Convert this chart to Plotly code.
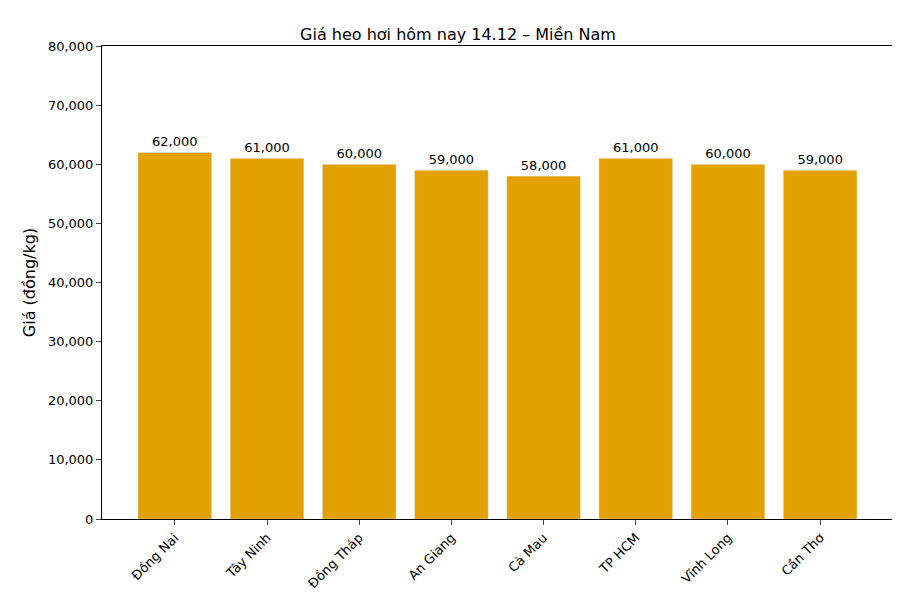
import plotly.graph_objects as go

provinces = ["Đồng Nai", "Tây Ninh", "Đồng Tháp", "An Giang", "Cà Mau", "TP HCM", "Vĩnh Long", "Cần Thơ"]
prices = [62000, 61000, 60000, 59000, 58000, 61000, 60000, 59000]
y_ticks = list(range(0, 80001, 10000))

fig = go.Figure(go.Bar(
    x=list(range(len(provinces))), y=prices, width=0.8, marker_color="#E3A100",
    text=[f"{v:,}" for v in prices], textposition="outside",
    textfont=dict(size=13, color="black"), cliponaxis=False,
))
fig.update_layout(
    width=900, height=600, plot_bgcolor="white", paper_bgcolor="white",
    margin=dict(l=94, r=15, t=38, b=89),
    font=dict(family="DejaVu Sans", size=13, color="black"),
    title=dict(text="Giá heo hơi hôm nay 14.12 – Miền Nam", x=0.5, xanchor="center", y=0.965, font=dict(size=16)),
    showlegend=False,
)
fig.update_xaxes(range=[-0.79, 7.79], tickvals=list(range(len(provinces))), ticktext=provinces,
                 tickangle=-45, showline=True, linecolor="black", mirror=True, ticks="outside",
                 ticklen=5, showgrid=False)
fig.update_yaxes(range=[0, 80000], tickvals=y_ticks, tickformat=",", showline=True, linecolor="black",
                 mirror=True, ticks="outside", ticklen=5, showgrid=False, zeroline=False,
                 title=dict(text="Giá (đồng/kg)", standoff=8))
fig.write_html("out.html")
